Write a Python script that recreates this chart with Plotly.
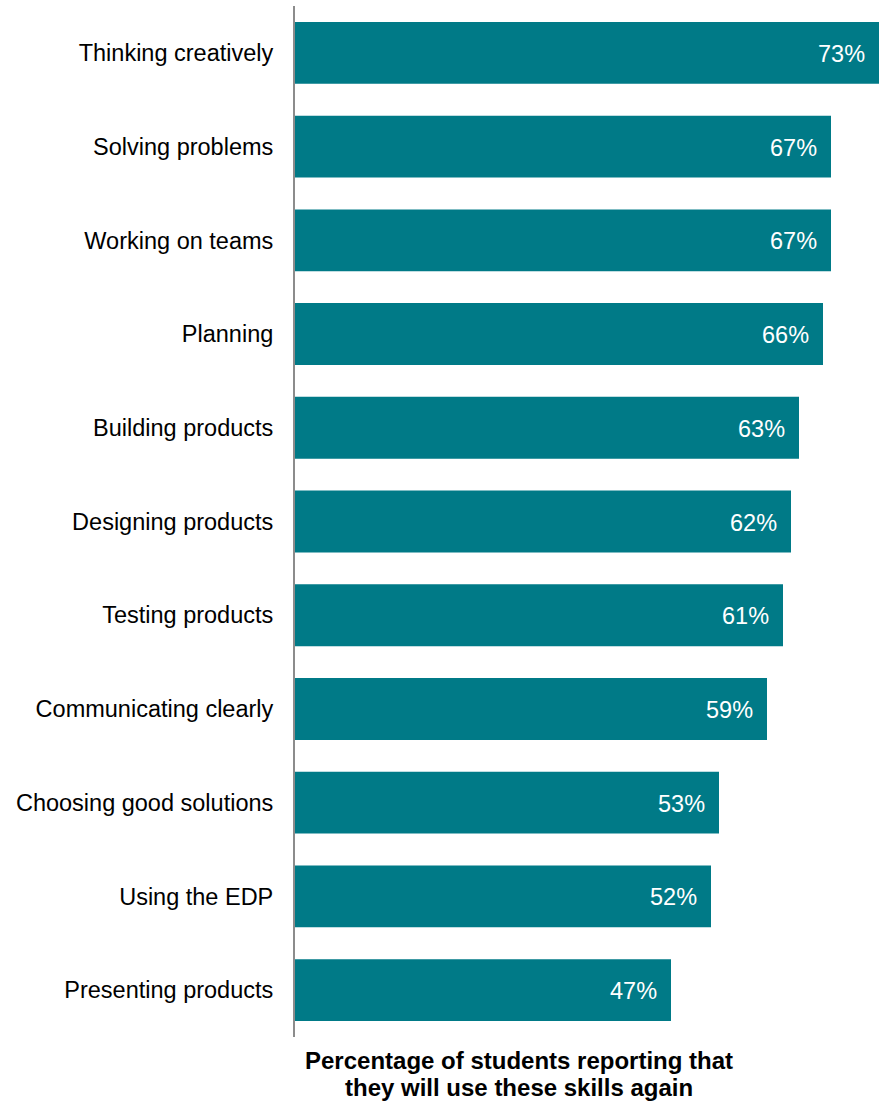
import plotly.graph_objects as go

# Skills, listed top to bottom, with the share of students reporting they will use them again
skills = [
    "Thinking creatively",
    "Solving problems",
    "Working on teams",
    "Planning",
    "Building products",
    "Designing products",
    "Testing products",
    "Communicating clearly",
    "Choosing good solutions",
    "Using the EDP",
    "Presenting products",
]
percent = [73, 67, 67, 66, 63, 62, 61, 59, 53, 52, 47]

title_lines = [
    "Percentage of students reporting that",
    "they will use these skills again",
]

BAR = "#007A87"
FONT = "Liberation Sans, Arial, sans-serif"

fig = go.Figure(
    go.Bar(
        x=percent,
        y=skills,
        orientation="h",
        marker=dict(color=BAR, line=dict(width=0)),
        hoverinfo="skip",
    )
)

# Value labels inside the right end of each bar
for s, v in zip(skills, percent):
    fig.add_annotation(
        x=v, y=s, xref="x", yref="y",
        text=f"{v}%", showarrow=False,
        xanchor="right", yanchor="middle", xshift=-12, yshift=-1,
        font=dict(family=FONT, size=23.5, color="white"),
    )

# Two-line bold axis caption under the bars
TOP, BOTTOM = 6, 1037
H_PLOT = BOTTOM - TOP
for line, py in zip(title_lines, [1060, 1087]):
    fig.add_annotation(
        x=(519 - 295) / 584, y=(BOTTOM - py) / H_PLOT,
        xref="paper", yref="paper",
        text=f"<b>{line}</b>", showarrow=False,
        xanchor="center", yanchor="middle",
        font=dict(family=FONT, size=24, color="black"),
    )

fig.update_layout(
    width=879, height=1103,
    margin=dict(l=295, r=0, t=TOP, b=1103 - BOTTOM),
    paper_bgcolor="white", plot_bgcolor="white",
    bargap=0.34,
    showlegend=False,
    font=dict(family=FONT, size=24, color="black"),
    xaxis=dict(range=[0, 73], visible=False, fixedrange=True),
    yaxis=dict(
        autorange="reversed",
        showline=True, linecolor="#8C8C8C", linewidth=2,
        ticks="", showgrid=False, zeroline=False,
        ticklabelstandoff=15,
        tickfont=dict(family=FONT, size=23.5, color="black"),
        fixedrange=True,
    ),
)

fig.write_html("out.html", config={"displayModeBar": False})
